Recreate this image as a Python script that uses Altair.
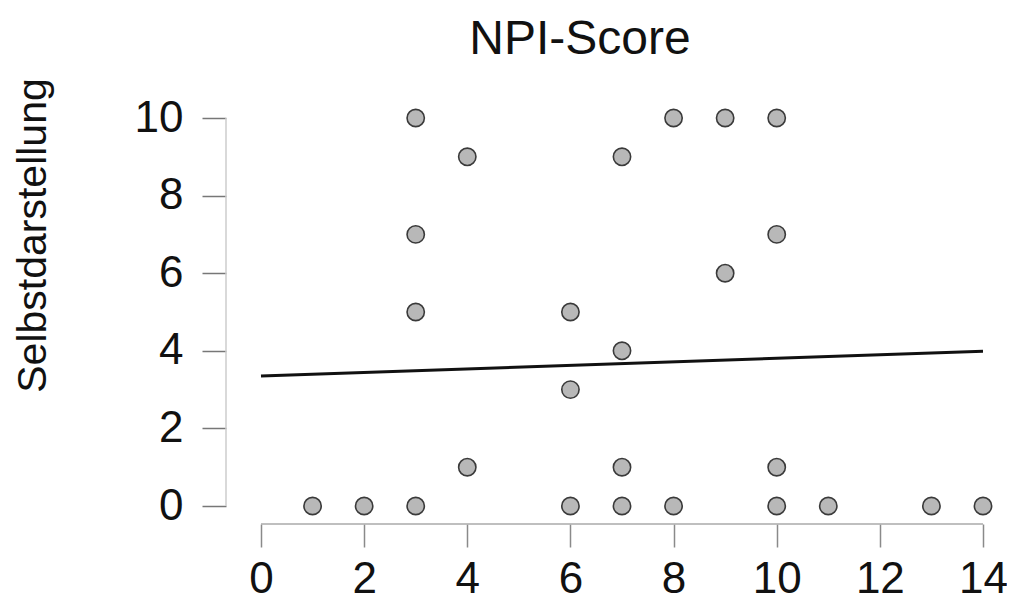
import altair as alt
import pandas as pd

# Scatter data: NPI-Score (x) vs Selbstdarstellung (y)
npi = [1, 2, 3, 6, 7, 8, 10, 11, 13, 14,
       4, 7, 10,
       6, 7,
       3, 6, 9,
       3, 10,
       4, 7,
       3, 8, 9, 10]
selbst = [0, 0, 0, 0, 0, 0, 0, 0, 0, 0,
          1, 1, 1,
          3, 4,
          5, 5, 6,
          7, 7,
          9, 9,
          10, 10, 10, 10]

# Regression line end points
line_x = [0, 14]
line_y = [3.35, 3.99]

x_ticks = [0, 2, 4, 6, 8, 10, 12, 14]
y_ticks = [0, 2, 4, 6, 8, 10]

FONT = "Liberation Sans"
W, H = 722, 388

pts = pd.DataFrame({"x": npi, "y": selbst})
ln = pd.DataFrame({"x": line_x, "y": line_y})
xaxis_df = pd.DataFrame({"x": [x_ticks[0]], "x2": [x_ticks[-1]]})
yaxis_df = pd.DataFrame({"y": [y_ticks[0]], "y2": [y_ticks[-1]]})

xscale = alt.Scale(domain=[0, 14], nice=False, zero=False)
yscale = alt.Scale(domain=[0, 10], nice=False, zero=False)

xaxis = alt.Axis(values=x_ticks, domain=False, grid=False, offset=18,
                 tickSize=23, tickColor="#8a8a8a", tickWidth=1.5,
                 labelFontSize=44, labelFont=FONT, labelColor="#111",
                 labelPadding=10, labelFlush=False, labelOverlap=False,
                 title=None)
yaxis = alt.Axis(values=y_ticks, domain=False, grid=False, offset=35,
                 tickSize=24, tickColor="#777", tickWidth=1.5,
                 labelFontSize=44, labelFont=FONT, labelColor="#111",
                 labelPadding=19, labelFlush=False, title="Selbstdarstellung",
                 titleFontSize=41, titleFont=FONT, titleFontWeight="normal",
                 titleColor="#111", titleAngle=-90, titleX=-181, titleY=117,
                 titleAlign="center", titleBaseline="alphabetic")

points = alt.Chart(pts).mark_point(
    filled=True, fill="#b8b8b8", stroke="#3a3a3a", strokeWidth=1.6,
    size=300, opacity=1, clip=False
).encode(
    x=alt.X("x:Q", scale=xscale, axis=xaxis),
    y=alt.Y("y:Q", scale=yscale, axis=yaxis),
)

reg = alt.Chart(ln).mark_line(color="#111", strokeWidth=3).encode(
    x=alt.X("x:Q", scale=xscale),
    y=alt.Y("y:Q", scale=yscale),
)

x_line = alt.Chart(xaxis_df).mark_rule(color="#aaaaaa", strokeWidth=1.5).encode(
    x=alt.X("x:Q", scale=xscale), x2="x2:Q", y=alt.value(H + 18)
)
y_line = alt.Chart(yaxis_df).mark_rule(color="#cccccc", strokeWidth=1.5).encode(
    y=alt.Y("y:Q", scale=yscale), y2="y2:Q", x=alt.value(-35)
)

chart = alt.layer(x_line, y_line, reg, points).properties(
    width=W, height=H,
    title=alt.TitleParams("NPI-Score", fontSize=48, font=FONT,
                          fontWeight="normal", color="#111",
                          anchor="middle", dx=-42, offset=14),
    autosize=alt.AutoSizeParams(type="none"),
    padding={"left": 253, "top": 110, "right": 24, "bottom": 94},
).configure_view(stroke=None)

chart.save("out.html", embed_options={"renderer": "svg", "actions": False})
